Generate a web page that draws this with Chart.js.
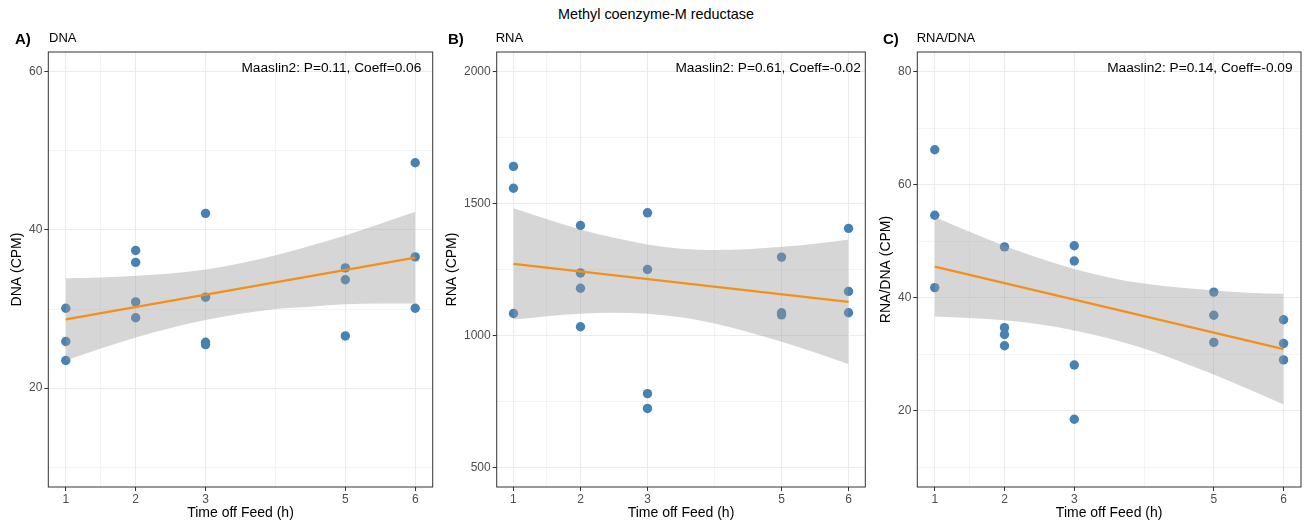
<!DOCTYPE html>
<html>
<head>
<meta charset="utf-8">
<title>Methyl coenzyme-M reductase</title>
<script src="https://cdn.jsdelivr.net/npm/chart.js@4.4.1/dist/chart.umd.min.js"></script>
<style>
    body { margin: 0; background: #fff; font-family: "Liberation Sans", Arial, sans-serif; }
    #wrap { position: relative; width: 1309px; height: 522px; overflow: hidden; background: #fff; }
    .panel { position: absolute; top: 0; }
    .txt { position: absolute; line-height: 1; white-space: nowrap; color: #000; }
    .tag { font-weight: bold; font-size: 15px; top: 30.6px; }
    .sub { font-size: 13px; top: 31.3px; }
</style>
</head>
<body>
<div id="wrap">
    <div class="txt" style="left:1.5px; width:1309px; text-align:center; top:7.3px; font-size:14.4px;">Methyl coenzyme-M reductase</div>

    <canvas id="dnaChart" class="panel" width="440" height="522" style="left:0px;"></canvas>
    <canvas id="rnaChart" class="panel" width="435" height="522" style="left:435px;"></canvas>
    <canvas id="ratioChart" class="panel" width="440" height="522" style="left:869px;"></canvas>

    <div class="txt tag" style="left:15px;">A)</div>
    <div class="txt sub" style="left:49px;">DNA</div>
    <div class="txt tag" style="left:448px;">B)</div>
    <div class="txt sub" style="left:495.7px;">RNA</div>
    <div class="txt tag" style="left:883px;">C)</div>
    <div class="txt sub" style="left:916.7px;">RNA/DNA</div>
</div>

<script>
// Sample time points (same 17 samples in every panel)
const timeOffFeed = [1, 1, 1, 2, 2, 2, 2, 3, 3, 3, 3, 5, 5, 5, 6, 6, 6];

const dnaCpm   = [30.1, 25.9, 23.5, 37.4, 35.9, 30.9, 28.9, 42.1, 31.5, 25.8, 25.5, 35.2, 33.7, 26.6, 48.5, 36.6, 30.1];
const rnaCpm   = [1641, 1558, 1083, 1417, 1237, 1179, 1033, 1465, 1250, 779, 723, 1297, 1086, 1078, 1406, 1167, 1086];
const ratioCpm = [66.2, 54.6, 41.8, 49.0, 34.7, 33.5, 31.5, 49.2, 46.5, 28.1, 18.5, 41.0, 36.9, 32.1, 36.1, 31.9, 29.0];

// Fitted line ends (at x = 1 and x = 6)
const fitX = [1, 6];
const dnaFit = [28.7, 36.5];
const rnaFit = [1271, 1127];
const ratioFit = [45.5, 30.9];

// Confidence band, read at these x positions
const bandX = [1, 1.5, 2, 2.5, 3, 3.5, 4, 4.5, 5, 5.5, 6];
const dnaUpper   = [33.9, 34.0, 34.2, 34.5, 35.0, 35.8, 36.8, 38.0, 39.3, 40.8, 42.3];
const dnaLower   = [23.5, 25.0, 26.4, 27.6, 28.6, 29.4, 30.0, 30.3, 30.6, 30.7, 30.7];
const rnaUpper   = [1482, 1441, 1402, 1370, 1345, 1329, 1324, 1327, 1336, 1348, 1364];
const rnaLower   = [1060, 1073, 1082, 1086, 1082, 1069, 1045, 1013, 976, 935, 891];
const ratioUpper = [54.3, 51.7, 49.2, 47.0, 45.1, 43.6, 42.5, 41.8, 41.3, 40.9, 40.7];
const ratioLower = [36.7, 36.4, 36.0, 35.3, 34.2, 32.8, 31.0, 28.8, 26.4, 23.8, 21.1];

// Axis ticks
const xTicks = [1, 2, 3, 5, 6];
const xMinor = [1.5, 4];
const dnaTicks = [20, 40, 60];
const dnaMinor = [10, 30, 50];
const rnaTicks = [500, 1000, 1500, 2000];
const rnaMinor = [750, 1250, 1750];
const ratioTicks = [20, 40, 60, 80];
const ratioMinor = [10, 30, 50, 70];

const statsLabels = ['Maaslin2: P=0.11, Coeff=0.06', 'Maaslin2: P=0.61, Coeff=-0.02', 'Maaslin2: P=0.14, Coeff=-0.09'];
const statsX = 4.8;

const FONT = '"Liberation Sans", Arial, sans-serif';

function pairs(xs, ys) {
    return xs.map((x, i) => ({ x: x, y: ys[i] }));
}

// Draws the panel border and the Maaslin2 label
const panelFrame = {
    id: 'panelFrame',
    afterDatasetsDraw(chart, args, opts) {
        const ctx = chart.ctx;
        const a = chart.chartArea;
        ctx.save();
        ctx.strokeStyle = '#333333';
        ctx.lineWidth = 1;
        ctx.strokeRect(a.left, a.top, a.right - a.left, a.bottom - a.top);
        ctx.font = '13.7px ' + FONT;
        ctx.fillStyle = '#000';
        ctx.textAlign = 'center';
        ctx.textBaseline = 'alphabetic';
        ctx.fillText(opts.text, chart.scales.x.getPixelForValue(statsX), a.top + 20);
        ctx.restore();
    }
};

function makeChart(id, cfg) {
    const ctx = document.getElementById(id).getContext('2d');
    const allY = cfg.major.concat(cfg.minor).sort((a, b) => a - b);
    const allX = xTicks.concat(xMinor).sort((a, b) => a - b);

    return new Chart(ctx, {
        type: 'line',
        data: {
            datasets: [
                {
                    label: 'fit',
                    data: pairs(fitX, cfg.fit),
                    borderColor: '#F39019',
                    borderWidth: 2.2,
                    pointRadius: 0,
                    fill: false,
                    order: 0
                },
                {
                    label: 'upper',
                    data: pairs(bandX, cfg.upper),
                    borderColor: 'transparent',
                    borderWidth: 0,
                    pointRadius: 0,
                    cubicInterpolationMode: 'monotone',
                    backgroundColor: 'rgba(153, 153, 153, 0.4)',
                    fill: '+1',
                    order: 1
                },
                {
                    label: 'lower',
                    data: pairs(bandX, cfg.lower),
                    borderColor: 'transparent',
                    borderWidth: 0,
                    pointRadius: 0,
                    cubicInterpolationMode: 'monotone',
                    fill: false,
                    order: 2
                },
                {
                    label: 'samples',
                    data: pairs(timeOffFeed, cfg.values),
                    showLine: false,
                    pointRadius: 4.7,
                    pointBorderWidth: 0,
                    pointBackgroundColor: '#4682B4',
                    pointBorderColor: '#4682B4',
                    order: 3
                }
            ]
        },
        options: {
            responsive: false,
            animation: false,
            events: [],
            layout: {
                padding: { top: 52, right: cfg.padRight, left: 0, bottom: 0 }
            },
            plugins: {
                legend: { display: false },
                tooltip: { enabled: false },
                panelFrame: { text: cfg.stats }
            },
            scales: {
                x: {
                    type: 'linear',
                    min: 0.75,
                    max: 6.25,
                    afterBuildTicks: s => { s.ticks = allX.map(v => ({ value: v })); },
                    afterFit: s => { s.height = 35; },
                    border: { display: false },
                    grid: {
                        color: '#EBEBEB',
                        lineWidth: c => xTicks.includes(c.tick && c.tick.value) ? 1 : 0.55,
                        tickColor: c => xTicks.includes(c.tick && c.tick.value) ? '#333333' : 'rgba(0,0,0,0)',
                        tickLength: 4,
                        tickWidth: 1
                    },
                    ticks: {
                        autoSkip: false,
                        maxRotation: 0,
                        padding: 1,
                        color: '#4D4D4D',
                        font: { family: FONT, size: 12 },
                        callback: v => xTicks.includes(v) ? String(v) : ''
                    },
                    title: {
                        display: true,
                        text: 'Time off Feed (h)',
                        color: '#000',
                        font: { family: FONT, size: 14, lineHeight: 1.2 },
                        padding: { top: 0, bottom: 0 }
                    }
                },
                y: {
                    type: 'linear',
                    min: cfg.yMin,
                    max: cfg.yMax,
                    afterBuildTicks: s => { s.ticks = allY.map(v => ({ value: v })); },
                    afterFit: s => { s.width = cfg.yWidth; },
                    border: { display: false },
                    grid: {
                        color: '#EBEBEB',
                        lineWidth: c => cfg.major.includes(c.tick && c.tick.value) ? 1 : 0.55,
                        tickColor: c => cfg.major.includes(c.tick && c.tick.value) ? '#333333' : 'rgba(0,0,0,0)',
                        tickLength: 4,
                        tickWidth: 1
                    },
                    ticks: {
                        autoSkip: false,
                        padding: 2,
                        color: '#4D4D4D',
                        font: { family: FONT, size: 12 },
                        callback: v => cfg.major.includes(v) ? String(v) : ''
                    },
                    title: {
                        display: true,
                        text: cfg.yTitle,
                        color: '#000',
                        font: { family: FONT, size: 14, lineHeight: 1.2 },
                        padding: { top: 9, bottom: 0 }
                    }
                }
            }
        },
        plugins: [panelFrame]
    });
}

document.addEventListener('DOMContentLoaded', function() {
    makeChart('dnaChart', {
        values: dnaCpm, fit: dnaFit, upper: dnaUpper, lower: dnaLower,
        major: dnaTicks, minor: dnaMinor, yMin: 7.5, yMax: 62.5,
        yTitle: 'DNA (CPM)', yWidth: 48.3, padRight: 7.3, stats: statsLabels[0]
    });

    makeChart('rnaChart', {
        values: rnaCpm, fit: rnaFit, upper: rnaUpper, lower: rnaLower,
        major: rnaTicks, minor: rnaMinor, yMin: 425, yMax: 2075,
        yTitle: 'RNA (CPM)', yWidth: 61.7, padRight: 4, stats: statsLabels[1]
    });

    makeChart('ratioChart', {
        values: ratioCpm, fit: ratioFit, upper: ratioUpper, lower: ratioLower,
        major: ratioTicks, minor: ratioMinor, yMin: 6.5, yMax: 83.5,
        yTitle: 'RNA/DNA (CPM)', yWidth: 48.3, padRight: 8, stats: statsLabels[2]
    });
});
</script>
</body>
</html>
